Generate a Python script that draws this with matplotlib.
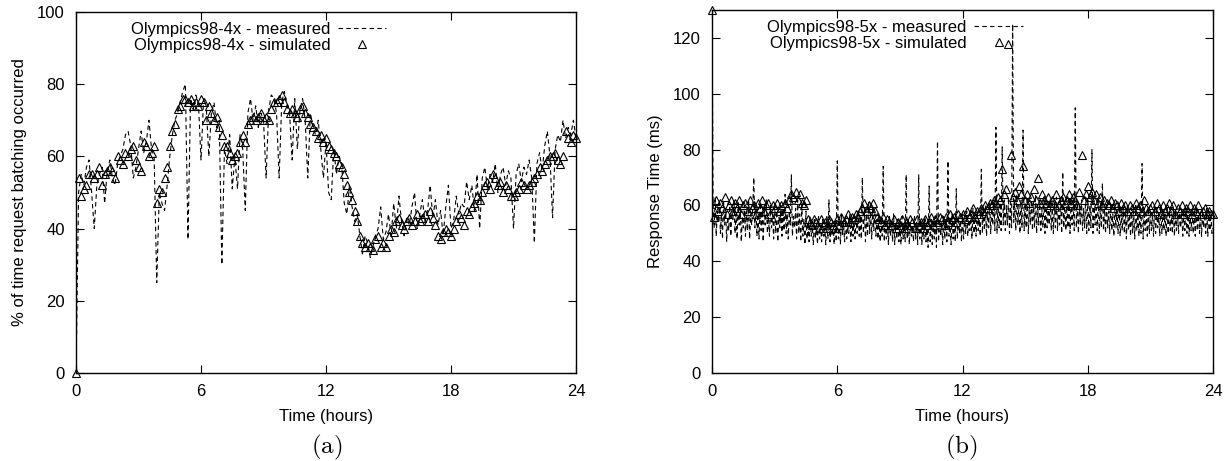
import numpy as np
import matplotlib.pyplot as plt

plt.rcParams['font.family'] = ['Liberation Sans', 'DejaVu Sans']

# sampling grids (hours)
t_left = np.arange(0, 24.001, 0.125)
t_meas_b = np.arange(0, 24.001, 0.05)
t_sim_b = np.arange(0, 24.001, 0.1)

# (a) Olympics98-4x, % of time request batching occurred
batch_measured = [
    0, 50, 55, 52, 57, 59, 50, 40,
    52, 55, 57, 47, 56, 59, 54, 52,
    58, 60, 62, 66, 67, 63, 54, 57,
    62, 67, 61, 64, 70, 62, 60, 25,
    50, 47, 45, 52, 60, 66, 70, 72,
    75, 78, 80, 37, 76, 73, 77, 75,
    59, 76, 74, 60, 72, 75, 68, 70,
    30, 62, 58, 66, 51, 60, 51, 66,
    62, 45, 72, 76, 70, 74, 68, 72,
    70, 54, 73, 77, 76, 72, 54, 75,
    78, 74, 72, 59, 76, 62, 73, 76,
    70, 54, 72, 68, 66, 70, 62, 54,
    64, 50, 48, 62, 55, 60, 58, 47,
    44, 52, 46, 42, 44, 38, 33, 38,
    36, 32, 35, 38, 40, 46, 37, 39,
    44, 38, 47, 40, 49, 42, 38, 43,
    41, 46, 50, 40, 44, 48, 42, 45,
    52, 43, 48, 41, 45, 38, 46, 52,
    40, 42, 49, 44, 47, 46, 53, 48,
    52, 45, 55, 40, 54, 57, 51, 55,
    53, 58, 50, 55, 57, 52, 56, 54,
    40, 55, 58, 53, 57, 55, 59, 54,
    36, 58, 61, 56, 63, 67, 60, 43,
    62, 66, 64, 70, 65, 68, 66, 70,
    65,
]
batch_simulated = [
    0, 54, 49, 51, 52, 55, 55, 54,
    55, 57, 52, 55, 56, 57, 56, 54,
    60, 59, 58, 61, 60, 62, 63, 59,
    57, 56, 64, 63, 60, 61, 63, 47,
    51, 50, 54, 57, 63, 67, 69, 73,
    74, 76, 76, 75, 76, 74, 75, 74,
    76, 75, 70, 74, 72, 70, 71, 68,
    66, 63, 63, 61, 59, 60, 61, 64,
    66, 64, 69, 70, 71, 70, 71, 72,
    70, 71, 70, 73, 75, 75, 76, 77,
    75, 73, 72, 73, 72, 71, 73, 74,
    72, 71, 69, 68, 67, 65, 66, 64,
    65, 63, 62, 61, 60, 58, 57, 55,
    52, 50, 48, 45, 42, 38, 36, 35,
    36, 35, 34, 37, 38, 35, 36, 35,
    38, 40, 39, 42, 43, 41, 40, 42,
    43, 41, 42, 44, 42, 43, 44, 42,
    45, 43, 41, 38, 37, 39, 40, 39,
    38, 40, 42, 44, 43, 41, 45, 44,
    46, 47, 49, 48, 50, 52, 53, 51,
    55, 54, 52, 53, 50, 52, 51, 49,
    49, 50, 51, 53, 52, 51, 52, 53,
    54, 55, 57, 56, 58, 59, 60, 60,
    61, 59, 58, 60, 67, 65, 64, 66,
    65,
]

# (b) Olympics98-5x, response time (ms)
resp_measured = [
    130, 60, 52, 63, 49, 58, 54, 61, 50, 57, 48, 62, 53, 59, 47, 56, 51, 60, 49, 58,
    55, 62, 50, 57, 48, 61, 53, 59, 47, 56, 52, 60, 49, 58, 51, 62, 48, 57, 53, 59,
    70, 52, 60, 49, 57, 48, 61, 51, 58, 47, 59, 53, 62, 50, 56, 49, 60, 52, 57, 48,
    61, 50, 58, 47, 56, 52, 60, 49, 59, 51, 64, 50, 57, 48, 58, 53, 71, 49, 56, 52,
    59, 48, 62, 50, 57, 47, 60, 49, 55, 46, 58, 48, 54, 47, 56, 49, 53, 46, 55, 48,
    54, 46, 56, 48, 53, 47, 55, 49, 52, 46, 56, 48, 62, 47, 54, 49, 53, 46, 55, 47,
    76, 48, 55, 46, 57, 49, 54, 47, 56, 48, 53, 50, 57, 47, 55, 49, 54, 48, 56, 50,
    58, 49, 56, 48, 70, 50, 59, 47, 57, 49, 61, 50, 58, 48, 60, 51, 57, 49, 55, 48,
    56, 47, 54, 49, 74, 47, 55, 48, 53, 46, 56, 49, 54, 47, 57, 46, 53, 48, 55, 47,
    54, 46, 56, 48, 53, 47, 71, 48, 55, 46, 54, 49, 53, 47, 56, 48, 54, 46, 71, 48,
    55, 46, 54, 48, 56, 47, 53, 45, 67, 47, 55, 46, 54, 48, 56, 45, 83, 47, 55, 49,
    54, 46, 56, 48, 55, 47, 76, 49, 54, 46, 57, 48, 55, 47, 66, 48, 56, 50, 55, 47,
    57, 48, 56, 50, 58, 49, 55, 51, 57, 48, 59, 50, 56, 49, 58, 51, 55, 49, 73, 50,
    59, 51, 60, 49, 58, 52, 61, 50, 59, 53, 62, 51, 88, 50, 60, 52, 61, 51, 81, 53,
    62, 51, 60, 53, 63, 50, 61, 52, 125, 54, 62, 51, 64, 53, 60, 50, 62, 52, 87, 51,
    61, 52, 63, 50, 60, 53, 62, 51, 61, 52, 64, 50, 60, 53, 62, 51, 59, 52, 63, 50,
    61, 52, 60, 53, 62, 51, 59, 50, 61, 52, 63, 51, 60, 53, 62, 50, 72, 52, 61, 51,
    60, 52, 63, 50, 61, 53, 62, 51, 95, 52, 61, 50, 60, 53, 62, 51, 59, 52, 63, 50,
    62, 51, 60, 52, 80, 50, 61, 53, 59, 51, 62, 50, 60, 52, 68, 51, 59, 50, 61, 52,
    58, 50, 60, 51, 57, 49, 59, 52, 58, 50, 60, 49, 57, 51, 59, 50, 58, 48, 60, 51,
    57, 49, 59, 50, 58, 48, 60, 51, 57, 49, 59, 50, 75, 48, 58, 51, 57, 49, 59, 50,
    58, 51, 57, 49, 59, 50, 58, 52, 57, 49, 60, 50, 58, 51, 57, 49, 59, 50, 58, 51,
    57, 50, 59, 49, 58, 51, 57, 50, 59, 52, 58, 49, 57, 51, 59, 50, 58, 49, 57, 51,
    58, 50, 57, 49, 59, 51, 58, 50, 57, 49, 58, 52, 57, 50, 59, 49, 58, 51, 57, 50,
    52,
]
resp_simulated = [
    130, 56, 62, 58, 61, 59, 63, 57, 60, 62,
    58, 61, 59, 62, 57, 60, 61, 58, 62, 59,
    60, 57, 61, 59, 62, 58, 60, 61, 57, 60,
    59, 61, 58, 60, 57, 61, 59, 62, 64, 63,
    65, 62, 64, 61, 60, 62, 55, 54, 53, 55,
    54, 52, 55, 53, 54, 52, 55, 54, 53, 52,
    55, 53, 56, 54, 55, 57, 54, 56, 55, 57,
    56, 58, 59, 61, 58, 60, 59, 61, 58, 56,
    55, 54, 56, 53, 55, 54, 53, 55, 52, 54,
    53, 55, 52, 54, 53, 55, 54, 52, 55, 53,
    54, 52, 55, 53, 54, 56, 53, 55, 54, 56,
    55, 53, 56, 54, 57, 55, 56, 54, 57, 56,
    57, 55, 58, 56, 57, 59, 56, 58, 57, 59,
    58, 60, 59, 61, 60, 62, 61, 63, 62, 73,
    64, 66, 118, 78, 63, 65, 62, 67, 64, 74,
    62, 64, 61, 63, 66, 62, 70, 61, 64, 62,
    61, 63, 60, 62, 61, 64, 60, 62, 63, 61,
    62, 64, 61, 63, 62, 60, 65, 78, 62, 64,
    67, 63, 65, 62, 64, 61, 63, 60, 62, 61,
    60, 62, 59, 61, 60, 58, 61, 59, 60, 58,
    60, 59, 58, 61, 59, 60, 58, 62, 59, 58,
    59, 60, 58, 61, 59, 57, 60, 58, 59, 61,
    58, 60, 57, 59, 58, 60, 57, 59, 58, 60,
    57, 59, 58, 60, 57, 58, 59, 57, 58, 57,
    57,
]

fig = plt.figure(figsize=(12.3, 4.61), dpi=100)
ax1 = fig.add_axes([0.0618, 0.191, 0.4065, 0.783])
ax2 = fig.add_axes([0.5789, 0.191, 0.4073, 0.787])


def draw(ax, t_m, meas, t_s, sim, name, ylim, yticks, ylabel):
    ax.plot(t_m, meas, color='black', lw=0.8, ls=(0, (4, 3)),
            label=name + ' - measured')
    ax.plot(t_s, sim, ls='none', marker='^', ms=6, mfc='none', mec='black',
            mew=0.8, clip_on=False, label=name + ' - simulated')
    ax.set_xlim(0, 24)
    ax.set_ylim(*ylim)
    ax.set_xticks([0, 6, 12, 18, 24])
    ax.set_yticks(yticks)
    ax.tick_params(direction='in', length=6, width=0.8, labelsize=12,
                   top=True, right=True, pad=8)
    for s in ax.spines.values():
        s.set_linewidth(1.0)
    ax.set_xlabel('Time (hours)', fontsize=12, labelpad=7)
    ax.set_ylabel(ylabel, fontsize=12, labelpad=7)
    ax.legend(loc='upper right', bbox_to_anchor=(0.64, 1.0),
              markerfirst=False, frameon=False, fontsize=12,
              handlelength=2.9, handletextpad=0.45, labelspacing=0.05,
              borderaxespad=0.2)


draw(ax1, t_left, batch_measured, t_left, batch_simulated, 'Olympics98-4x',
     (0, 100), [0, 20, 40, 60, 80, 100], '% of time request batching occurred')
draw(ax2, t_meas_b, resp_measured, t_sim_b, resp_simulated, 'Olympics98-5x',
     (0, 130), [0, 20, 40, 60, 80, 100, 120], 'Response Time (ms)')

fig.text(0.266, 0.03, r'$\mathrm{(a)}$', fontsize=18, ha='center',
         va='center', math_fontfamily='cm')
fig.text(0.782, 0.03, r'$\mathrm{(b)}$', fontsize=18, ha='center',
         va='center', math_fontfamily='cm')

fig.savefig('out.png', dpi=100)
